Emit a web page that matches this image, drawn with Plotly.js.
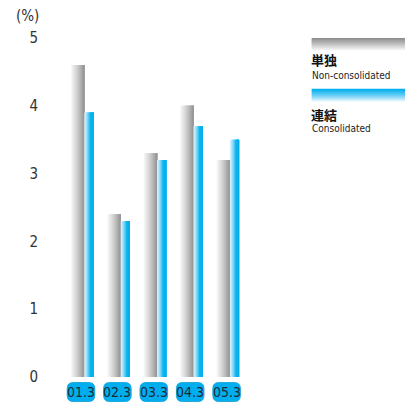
<!DOCTYPE html>
<html>
<head>
<meta charset="utf-8">
<script src="https://cdn.plot.ly/plotly-3.0.1.min.js"></script>
<style>html,body{margin:0;padding:0;background:#fff;}#chart{width:405px;height:404px;}</style>
</head>
<body>
<div id="chart"></div>
<script>
// ---- data ----
const categories = ['01.3', '02.3', '03.3', '04.3', '05.3'];
const nonConsolidated = [4.6, 2.4, 3.3, 4.0, 3.2];
const consolidated = [3.9, 2.3, 3.2, 3.7, 3.5];
const yTicks = [0, 1, 2, 3, 4, 5];
const seriesNames = ['単独', '連結'];
const seriesSub = ['Non-consolidated', 'Consolidated'];

// ---- styling helpers ----
const W = 405, H = 404;
const L = 64, R = 159, T = 38, B = 27;
const plotW = W - L - R, plotH = H - T - B;
const px2x = x => (x - L) / plotW;
const px2y = y => (H - B - y) / plotH;

function hex(c){return [parseInt(c.slice(1,3),16),parseInt(c.slice(3,5),16),parseInt(c.slice(5,7),16)];}
function grad(stops, t){
  for (let i = 0; i < stops.length - 1; i++) {
    const [t0, c0] = stops[i], [t1, c1] = stops[i+1];
    if (t <= t1) {
      const f = (t - t0) / (t1 - t0 || 1);
      const a = hex(c0), b = hex(c1);
      return 'rgb(' + a.map((v,j)=>Math.round(v + (b[j]-v)*f)).join(',') + ')';
    }
  }
  return stops[stops.length-1][1];
}
const grayStops = [[0,'#f6f6f6'],[0.5,'#cbcbcb'],[1,'#959595']];
const blueStops = [[0,'#d6f2fd'],[0.35,'#7fd6f6'],[0.65,'#10b6ef'],[1,'#00aeef']];

const traces = [];
function addStrips(values, offset, width, stops, n){
  for (let k = 0; k < n; k++) {
    const d = width * k / n;
    traces.push({
      type: 'bar', x: categories, y: values,
      offset: offset + d, width: width - d,
      marker: {color: grad(stops, k/(n-1)), line: {width: 0}},
      hoverinfo: 'skip', showlegend: false
    });
  }
}
const unit = plotW / categories.length;
addStrips(nonConsolidated, -11.2/unit, 13.4/unit, grayStops, 14);
addStrips(consolidated, 2.1/unit, 9.2/unit, blueStops, 10);

const shapes = [];
const annotations = [];
const narrow = 'DejaVu Sans Condensed, Liberation Sans Narrow, Roboto Condensed, sans-serif';

// category pills
categories.forEach((c, i) => {
  const w = 13.8, h0 = -5.5, h1 = -24.5, r = 6;
  const cx = (i+0.5)/categories.length - 1.2/plotW;
  const p = `M${-w+r},${h0} L${w-r},${h0} Q${w},${h0} ${w},${h0-r} L${w},${h1+r} Q${w},${h1} ${w-r},${h1} L${-w+r},${h1} Q${-w},${h1} ${-w},${h1+r} L${-w},${h0-r} Q${-w},${h0} ${-w+r},${h0} Z`;
  shapes.push({type:'path', xref:'paper', yref:'paper', xsizemode:'pixel', ysizemode:'pixel',
    xanchor:cx, yanchor:0, path:p,
    fillcolor:'#00aeef', line:{color:'#0a9fd8', width:0.8}, layer:'above'});
  annotations.push({xref:'paper', yref:'paper', x:cx, y:0, yshift:-15, xanchor:'center', yanchor:'middle',
    text:c, showarrow:false, font:{family:narrow, size:14, color:'#1c2a36'}});
});

// legend gradient boxes (vertical gradient, dark on top)
function legendBox(yTop, yBot, stops){
  const n = 14, h = (yBot - yTop) / n;
  for (let k = 0; k < n; k++) {
    shapes.push({type:'rect', xref:'paper', yref:'paper', x0:px2x(311.7), x1:px2x(405),
      y0:px2y(yTop + k*h), y1:px2y(yTop + (k+1)*h + 0.6),
      fillcolor: grad(stops, k/(n-1)), line:{width:0}});
  }
}
legendBox(38, 51.3, [[0,'#8f8f8f'],[0.5,'#c4c4c4'],[1,'#ffffff']]);
legendBox(88.7, 102.7, [[0,'#00aeef'],[0.5,'#6fd0f5'],[1,'#ffffff']]);

const legendY = [[59.8, 75.6], [114.6, 128.2]];
seriesNames.forEach((nm, i) => {
  annotations.push({xref:'paper', yref:'paper', x:px2x(310), y:px2y(legendY[i][0]), xanchor:'left', yanchor:'middle',
    text:'<b>'+nm+'</b>', showarrow:false, borderpad:0, font:{family:'Noto Sans CJK JP, sans-serif', size:13, color:'#111'}});
  annotations.push({xref:'paper', yref:'paper', x:px2x(310.5), y:px2y(legendY[i][1]), xanchor:'left', yanchor:'middle',
    text:seriesSub[i], showarrow:false, borderpad:0, font:{family:narrow, size:10, color:'#222'}});
});

// unit label
annotations.push({xref:'paper', yref:'paper', x:px2x(27), y:px2y(16.5), xanchor:'center', yanchor:'middle',
  text:'(%)', showarrow:false, font:{family:narrow, size:15, color:'#333'}});

const layout = {
  width: W, height: H,
  margin: {l: L, r: R, t: T, b: B, pad: 0},
  paper_bgcolor: '#fff', plot_bgcolor: '#fff',
  barmode: 'overlay',
  xaxis: {type:'category', range:[-0.5, categories.length-0.5], showticklabels:false, showgrid:false, zeroline:false, showline:false, ticks:''},
  yaxis: {range:[0, 5], tickvals: yTicks, ticktext: yTicks.map(String), showgrid:false, zeroline:false, showline:false, ticks:'',
    ticklabelstandoff: 25, tickfont:{family:narrow, size:15, color:'#333'}},
  shapes: shapes,
  annotations: annotations,
  showlegend: false
};
Plotly.newPlot('chart', traces, layout, {displayModeBar:false, staticPlot:true});
</script>
</body>
</html>
